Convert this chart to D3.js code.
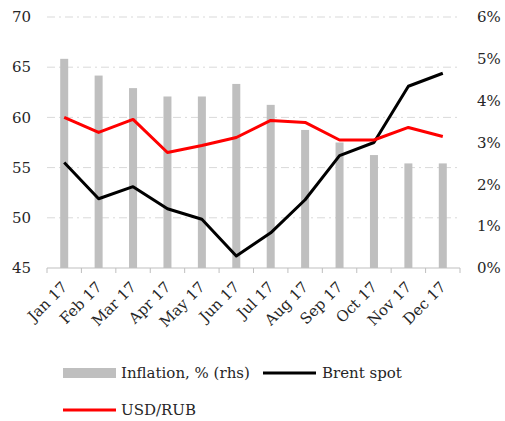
<!DOCTYPE html>
<html>
<head>
<meta charset="utf-8">
<script src="https://cdn.jsdelivr.net/npm/d3@7"></script>
<style>
  body { margin: 0; background: #fff; }
  text { font-family: "DejaVu Serif", "Liberation Serif", serif; fill: #262626; }
</style>
</head>
<body>
<div id="chart"></div>
<script>
const months = ["Jan 17", "Feb 17", "Mar 17", "Apr 17", "May 17", "Jun 17",
                "Jul 17", "Aug 17", "Sep 17", "Oct 17", "Nov 17", "Dec 17"];
const inflation = [5.0, 4.6, 4.3, 4.1, 4.1, 4.4, 3.9, 3.3, 3.0, 2.7, 2.5, 2.5];
const brent = [55.5, 51.9, 53.1, 50.9, 49.85, 46.2, 48.5, 51.8, 56.2, 57.5, 63.1, 64.4];
const usdrub = [60.0, 58.5, 59.8, 56.5, 57.2, 58.0, 59.7, 59.5, 57.75, 57.75, 59.0, 58.1];
const leftTicks = [45, 50, 55, 60, 65, 70];
const rightTicks = [0, 1, 2, 3, 4, 5, 6];

const width = 505, height = 421;
const plot = { left: 47, right: 460, top: 17, bottom: 268 };
const fs = 15;

const svg = d3.select("#chart").append("svg")
    .attr("width", width)
    .attr("height", height);

const x = d3.scaleBand()
    .domain(months)
    .range([plot.left, plot.right]);

const yLeft = d3.scaleLinear().domain([45, 70]).range([plot.bottom, plot.top]);
const yRight = d3.scaleLinear().domain([0, 6]).range([plot.bottom, plot.top]);

// gridlines
svg.append("g")
    .selectAll("line")
    .data(leftTicks.filter(d => d > 45))
    .enter().append("line")
    .attr("x1", plot.left)
    .attr("x2", plot.right)
    .attr("y1", d => yLeft(d))
    .attr("y2", d => yLeft(d))
    .attr("stroke", "#d9d9d9")
    .attr("stroke-width", 1)
    .attr("stroke-dasharray", "8,4,2,4");

// bars
const barW = 8;
svg.append("g")
    .selectAll("rect")
    .data(inflation)
    .enter().append("rect")
    .attr("x", (d, i) => x(months[i]) + x.bandwidth() / 2 - barW / 2)
    .attr("y", d => yRight(d))
    .attr("width", barW)
    .attr("height", d => plot.bottom - yRight(d))
    .attr("fill", "#bfbfbf");

// x axis
const xAxis = svg.append("g")
    .attr("transform", `translate(0,${plot.bottom})`);
xAxis.append("line")
    .attr("x1", plot.left).attr("x2", plot.right)
    .attr("stroke", "#bfbfbf");
const bounds = months.map(m => x(m)).concat([plot.right]);
xAxis.selectAll(".tick")
    .data(bounds)
    .enter().append("line")
    .attr("x1", d => d).attr("x2", d => d)
    .attr("y1", 0).attr("y2", 5)
    .attr("stroke", "#bfbfbf");
xAxis.selectAll(".lbl")
    .data(months)
    .enter().append("text")
    .attr("text-anchor", "end")
    .attr("font-size", fs)
    .attr("transform", d => `translate(${x(d) + x.bandwidth() / 2 + 4},${20}) rotate(-45)`)
    .text(d => d);

// left axis labels
svg.append("g")
    .selectAll("text")
    .data(leftTicks)
    .enter().append("text")
    .attr("x", 31)
    .attr("y", d => yLeft(d))
    .attr("dy", "0.35em")
    .attr("text-anchor", "end")
    .attr("font-size", fs)
    .text(d => d);

// right axis labels
svg.append("g")
    .selectAll("text")
    .data(rightTicks)
    .enter().append("text")
    .attr("x", 477)
    .attr("y", d => yRight(d))
    .attr("dy", "0.35em")
    .attr("font-size", fs)
    .text(d => d + "%");

// lines
const lineGen = d3.line()
    .x((d, i) => x(months[i]) + x.bandwidth() / 2)
    .y(d => yLeft(d));

svg.append("path")
    .datum(brent)
    .attr("d", lineGen)
    .attr("fill", "none")
    .attr("stroke", "#000")
    .attr("stroke-width", 3)
    .attr("stroke-linejoin", "round");

svg.append("path")
    .datum(usdrub)
    .attr("d", lineGen)
    .attr("fill", "none")
    .attr("stroke", "#ff0000")
    .attr("stroke-width", 3)
    .attr("stroke-linejoin", "round");

// legend
const legend = svg.append("g");
legend.append("rect")
    .attr("x", 63).attr("y", 368)
    .attr("width", 53).attr("height", 10)
    .attr("fill", "#bfbfbf");
legend.append("text")
    .attr("x", 121).attr("y", 373).attr("dy", "0.35em")
    .attr("font-size", fs)
    .text("Inflation, % (rhs)");
legend.append("line")
    .attr("x1", 263).attr("x2", 316)
    .attr("y1", 373).attr("y2", 373)
    .attr("stroke", "#000").attr("stroke-width", 3);
legend.append("text")
    .attr("x", 322).attr("y", 373).attr("dy", "0.35em")
    .attr("font-size", fs)
    .text("Brent spot");
legend.append("line")
    .attr("x1", 63).attr("x2", 116)
    .attr("y1", 410).attr("y2", 410)
    .attr("stroke", "#ff0000").attr("stroke-width", 3);
legend.append("text")
    .attr("x", 121).attr("y", 410).attr("dy", "0.35em")
    .attr("font-size", fs)
    .text("USD/RUB");
</script>
</body>
</html>
